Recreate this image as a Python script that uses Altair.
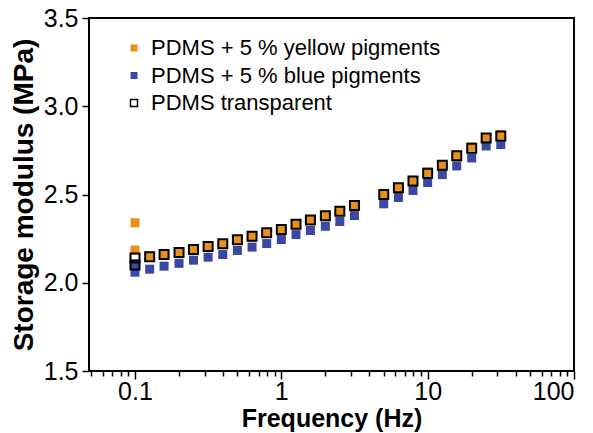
import altair as alt
import pandas as pd

freqs = [0.1, 0.1, 0.126, 0.158, 0.2, 0.251, 0.316, 0.398, 0.501, 0.631, 0.794, 1.0,
         1.26, 1.58, 2.0, 2.51, 3.16, 5.01, 6.31, 7.94, 10.0, 12.6, 15.8, 20.0, 25.1, 31.6]
yellow = [2.34, 2.185, 2.152, 2.162, 2.174, 2.19, 2.207, 2.223, 2.245, 2.266, 2.285, 2.305,
          2.334, 2.358, 2.383, 2.408, 2.44, 2.503, 2.54, 2.58, 2.628, 2.67, 2.722, 2.77, 2.822, 2.84]
blue = [2.105, 2.06, 2.077, 2.094, 2.11, 2.128, 2.145, 2.16, 2.183, 2.202, 2.222, 2.245,
        2.273, 2.296, 2.32, 2.347, 2.381, 2.447, 2.483, 2.523, 2.568, 2.613, 2.662, 2.707, 2.775, 2.783]
transparent = [2.14, 2.10, 2.148, 2.16, 2.172, 2.188, 2.205, 2.221, 2.243, 2.264, 2.283, 2.302,
               2.332, 2.355, 2.38, 2.405, 2.437, 2.5, 2.538, 2.576, 2.62, 2.666, 2.72, 2.762, 2.82, 2.832]

series_names = ["PDMS + 5 % yellow pigments", "PDMS + 5 % blue pigments", "PDMS transparent"]
fill_colors = ["#E8901A", "#3A47A3", "transparent"]
stroke_colors = ["transparent", "transparent", "black"]

x_ticks = [0.05, 0.06, 0.07, 0.08, 0.09, 0.1, 0.2, 0.3, 0.4, 0.5, 0.6, 0.7, 0.8, 0.9, 1,
           2, 3, 4, 5, 6, 7, 8, 9, 10, 20, 30, 40, 50, 60, 70, 80, 90, 100]
y_ticks = [1.5, 2.0, 2.5, 3.0, 3.5]

rows = []
for name, vals in zip(series_names, [yellow, blue, transparent]):
    for f, v in zip(freqs, vals):
        rows.append({"series": name, "freq": f, "value": v})
df = pd.DataFrame(rows)
df["order"] = range(len(df))

FONT = "Liberation Sans"
major_test = "datum.value == 0.1 || datum.value == 1 || datum.value == 10 || datum.value == 100"

legend_kw = dict(title=None, orient="none", legendX=34, legendY=19,
                 labelFont=FONT, labelFontSize=22, labelColor="black", labelLimit=0,
                 symbolType="square", symbolSize=49, symbolStrokeWidth=1.5,
                 labelOffset=6, rowPadding=5.5, padding=0)

chart = alt.Chart(df).mark_square(size=81, strokeWidth=2, opacity=1).encode(
    x=alt.X("freq:Q",
            scale=alt.Scale(type="log", domain=[0.0485, 100], nice=False),
            axis=alt.Axis(values=x_ticks, format="~g",
                          labelExpr=f"({major_test}) ? datum.label : ''",
                          tickSize={"condition": {"test": major_test, "value": 8}, "value": 5},
                          labelOverlap=False, grid=False, domain=False,
                          tickColor="black", tickWidth=1.5,
                          labelFont=FONT, labelFontSize=25, labelColor="black", labelPadding=0,
                          title="Frequency (Hz)", titleFont=FONT, titleFontSize=25,
                          titleFontWeight="bold", titleColor="black", titlePadding=2)),
    y=alt.Y("value:Q",
            scale=alt.Scale(domain=[1.5, 3.5], nice=False, zero=False),
            axis=alt.Axis(values=y_ticks, format=".1f", grid=False, domain=False,
                          tickSize=7, tickColor="black", tickWidth=1.5,
                          labelFont=FONT, labelFontSize=25, labelColor="black", labelPadding=4,
                          title="Storage modulus (MPa)", titleFont=FONT, titleFontSize=28,
                          titleFontWeight="bold", titleColor="black", titlePadding=5)),
    fill=alt.Fill("series:N", scale=alt.Scale(domain=series_names, range=fill_colors),
                  legend=alt.Legend(**legend_kw)),
    stroke=alt.Stroke("series:N", scale=alt.Scale(domain=series_names, range=stroke_colors),
                      legend=alt.Legend(**legend_kw)),
    order=alt.Order("order:Q"),
).properties(
    width=485, height=353, background="white",
    padding={"left": 89, "top": 18, "right": 19, "bottom": 62},
    autosize=alt.AutoSizeParams(type="none"),
).configure_view(stroke="black", strokeWidth=2)

chart.save("out.html", embed_options={"renderer": "svg", "actions": False})
